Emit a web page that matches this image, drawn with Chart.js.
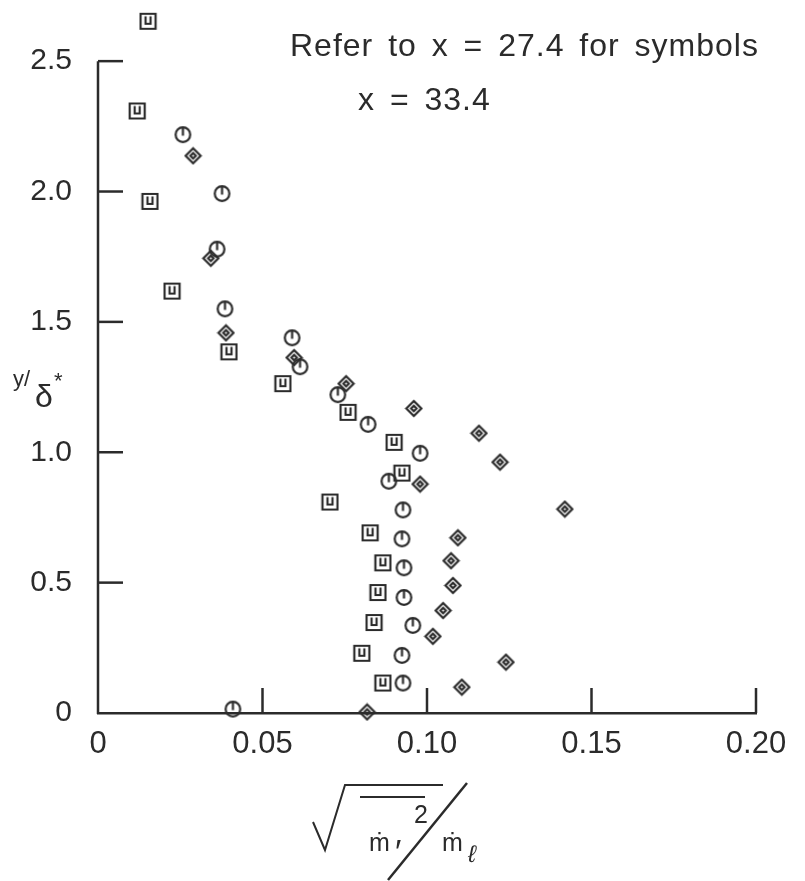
<!DOCTYPE html>
<html>
<head>
<meta charset="utf-8">
<script src="https://cdn.jsdelivr.net/npm/chart.js@4"></script>
<style>
  html, body { margin: 0; padding: 0; background: #fff; }
  #wrap { width: 805px; height: 881px; position: relative; }
</style>
</head>
<body>
<div id="wrap"><canvas id="profileChart"></canvas></div>
<script>
// values (x = sqrt(m'^2)/m_l, y = y/delta*)
const squareX = [0.0152, 0.0119, 0.0158, 0.0225, 0.0398, 0.0562, 0.0760, 0.0900, 0.0924, 0.0705, 0.0827, 0.0866, 0.0851, 0.0839, 0.0802, 0.0866];
const squareY = [2.653, 2.309, 1.962, 1.618, 1.385, 1.263, 1.153, 1.038, 0.920, 0.809, 0.691, 0.576, 0.462, 0.347, 0.229, 0.115];

const circleX = [0.0258, 0.0377, 0.0362, 0.0386, 0.0590, 0.0614, 0.0729, 0.0821, 0.0979, 0.0884, 0.0927, 0.0924, 0.0930, 0.0930, 0.0957, 0.0924, 0.0927, 0.0410];
const circleY = [2.218, 1.992, 1.779, 1.550, 1.439, 1.328, 1.221, 1.107, 0.996, 0.889, 0.779, 0.668, 0.557, 0.443, 0.336, 0.221, 0.115, 0.015];

const diamondX = [0.0289, 0.0343, 0.0389, 0.0596, 0.0754, 0.0960, 0.1158, 0.1222, 0.0979, 0.1419, 0.1094, 0.1073, 0.1079, 0.1049, 0.1018, 0.1240, 0.1106, 0.0818];
const diamondY = [2.137, 1.744, 1.458, 1.363, 1.263, 1.168, 1.073, 0.962, 0.878, 0.782, 0.672, 0.584, 0.489, 0.393, 0.294, 0.195, 0.099, 0.004];

const xTickValues = [0, 0.05, 0.10, 0.15, 0.20];
const xTickLabels = ['0', '0.05', '0.10', '0.15', '0.20'];
const yTickValues = [0, 0.5, 1.0, 1.5, 2.0, 2.5];
const yTickLabels = ['0', '0.5', '1.0', '1.5', '2.0', '2.5'];

const noteLines = ['Refer to x = 27.4 for symbols', 'x = 33.4'];

const ink = '#2b2b2b';
const FONT = '"Liberation Sans", "DejaVu Sans", sans-serif';

function toPoints(xs, ys) {
    return xs.map((x, i) => ({ x: x, y: ys[i] }));
}

// little hand-drawn looking symbols
function makeMarker(kind) {
    const c = document.createElement('canvas');
    c.width = 19; c.height = 19;
    const g = c.getContext('2d');
    g.strokeStyle = ink;
    g.lineWidth = 2.2;
    g.beginPath();
    if (kind === 'square') {
        g.rect(2, 2, 15, 15);
        g.moveTo(7, 4.5); g.lineTo(7, 12); g.lineTo(12, 12); g.lineTo(12, 4.5);
    } else if (kind === 'circle') {
        g.arc(9.5, 9.5, 7.3, 0, Math.PI * 2);
        g.moveTo(9.5, 3); g.lineTo(9.5, 10.5);
    } else {
        g.moveTo(9.5, 2); g.lineTo(17, 9.5); g.lineTo(9.5, 17); g.lineTo(2, 9.5); g.closePath();
        g.moveTo(9.5, 6.8); g.lineTo(12.2, 9.5); g.lineTo(9.5, 12.2); g.lineTo(6.8, 9.5); g.closePath();
    }
    g.stroke();
    return c;
}

function line(ctx, x1, y1, x2, y2) {
    ctx.beginPath();
    ctx.moveTo(x1, y1);
    ctx.lineTo(x2, y2);
    ctx.stroke();
}

const decorPlugin = {
    id: 'decor',
    afterDraw(chart) {
        const ctx = chart.ctx;
        const area = chart.chartArea;
        const xs = chart.scales.x, ys = chart.scales.y;
        const y0 = ys.getPixelForValue(yTickValues[0]);
        const yTop = ys.getPixelForValue(yTickValues[yTickValues.length - 1]);
        ctx.save();
        ctx.strokeStyle = ink;
        ctx.fillStyle = ink;
        ctx.lineWidth = 2.5;

        // left axis only runs up to the last tick
        line(ctx, area.left, y0 + 1, area.left, yTop);

        // inward tick marks
        xTickValues.forEach(v => {
            if (v === 0) return;
            const px = xs.getPixelForValue(v);
            line(ctx, px, y0, px, y0 - 25);
        });
        yTickValues.forEach(v => {
            if (v === 0) return;
            const py = ys.getPixelForValue(v);
            line(ctx, area.left, py, area.left + 25, py);
        });

        // notes at top
        ctx.textAlign = 'left';
        ctx.textBaseline = 'alphabetic';
        ctx.font = '32px ' + FONT;
        ctx.letterSpacing = '1px';
        ctx.wordSpacing = '5px';
        ctx.fillText(noteLines[0], 290, 56);
        ctx.fillText(noteLines[1], 358, 110);
        ctx.letterSpacing = '0px';
        ctx.wordSpacing = '0px';

        // y axis title  y/δ*
        ctx.font = '22px ' + FONT;
        ctx.fillText('y/', 13, 386);
        ctx.font = '32px ' + FONT;
        ctx.fillText('δ', 35, 407);
        ctx.font = '22px ' + FONT;
        ctx.fillText('*', 54, 388);

        // x axis title  sqrt( mean(m'^2) ) / m_l
        ctx.lineWidth = 2;
        ctx.beginPath();
        ctx.moveTo(313, 822);
        ctx.lineTo(325, 850);
        ctx.lineTo(345, 785);
        ctx.lineTo(443, 785);
        ctx.stroke();
        line(ctx, 360, 797, 425, 797);
        ctx.font = '25px ' + FONT;
        ctx.fillText('ṁ', 369, 851);
        ctx.font = '34px ' + FONT;
        ctx.fillText('′', 395, 863);
        ctx.font = '25px ' + FONT;
        ctx.fillText('2', 414, 823);
        ctx.lineWidth = 2.5;
        line(ctx, 388, 880, 467, 783);
        ctx.font = '25px ' + FONT;
        ctx.fillText('ṁ', 442, 851);
        ctx.font = 'italic 24px ' + FONT;
        ctx.fillText('ℓ', 468, 862);

        ctx.restore();
    }
};

document.addEventListener('DOMContentLoaded', function () {
    Chart.defaults.font.family = FONT;
    Chart.defaults.color = ink;

    const ctx = document.getElementById('profileChart').getContext('2d');

    new Chart(ctx, {
        type: 'scatter',
        data: {
            datasets: [
                { label: 'square', data: toPoints(squareX, squareY), pointStyle: makeMarker('square'), pointRadius: 8, clip: false },
                { label: 'circle', data: toPoints(circleX, circleY), pointStyle: makeMarker('circle'), pointRadius: 8, clip: false },
                { label: 'diamond', data: toPoints(diamondX, diamondY), pointStyle: makeMarker('diamond'), pointRadius: 8, clip: false }
            ]
        },
        options: {
            responsive: true,
            maintainAspectRatio: false,
            animation: false,
            layout: { padding: { left: 0, top: 4, right: 49, bottom: 0 } },
            plugins: {
                legend: { display: false },
                tooltip: { enabled: false }
            },
            scales: {
                x: {
                    type: 'linear',
                    min: 0, max: 0.2,
                    afterBuildTicks: s => { s.ticks = xTickValues.map(v => ({ value: v })); },
                    afterFit: s => { s.height = 168; },
                    grid: { display: false, drawTicks: false },
                    border: { display: true, color: ink, width: 2.5 },
                    ticks: {
                        autoSkip: false, maxRotation: 0, padding: 13,
                        font: { size: 31 }, color: ink,
                        callback: (v, i) => xTickLabels[i]
                    }
                },
                y: {
                    type: 'linear',
                    // headroom above the 2.5 axis end for the top square
                    min: 0, max: 2.7,
                    afterBuildTicks: s => { s.ticks = yTickValues.map(v => ({ value: v })); },
                    afterFit: s => { s.width = 98; s.paddingTop = 0; s.paddingBottom = 0; },
                    grid: { display: false, drawTicks: false },
                    border: { display: false },
                    ticks: {
                        autoSkip: false, padding: 26,
                        font: { size: 30 }, color: ink,
                        callback: (v, i) => yTickLabels[i]
                    }
                }
            }
        },
        plugins: [decorPlugin]
    });
});
</script>
</body>
</html>
